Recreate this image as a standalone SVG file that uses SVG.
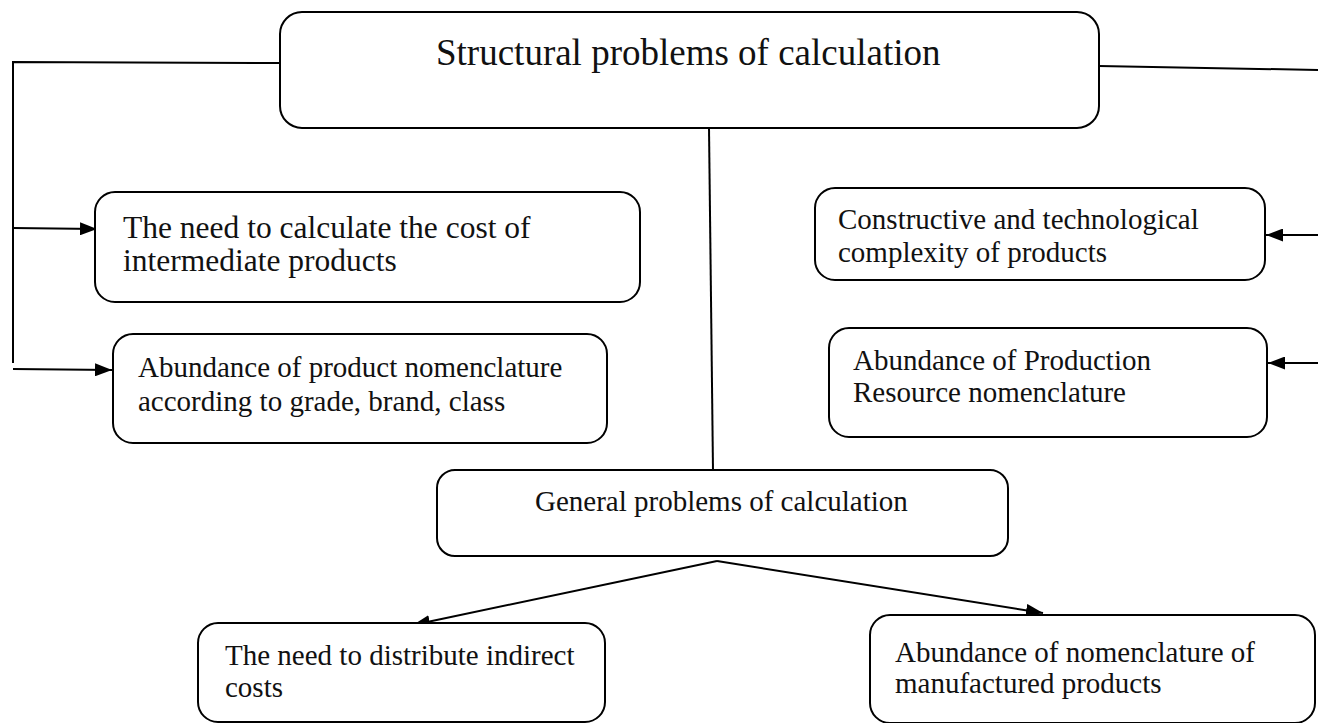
<svg xmlns="http://www.w3.org/2000/svg" width="1318" height="723" viewBox="0 0 1318 723">
<style>
.box{fill:#fff;stroke:#000;stroke-width:2}
.ln{fill:none;stroke:#000;stroke-width:2}
text{font-family:"Liberation Serif","Times New Roman",serif;fill:#111}
.t1{font-size:37px}
.t2{font-size:31.5px}
.t3{font-size:29px}
</style>
<defs>
<marker id="ah2" viewBox="0 0 10 10" refX="10" refY="5" markerWidth="17" markerHeight="13" markerUnits="userSpaceOnUse" orient="auto" preserveAspectRatio="none">
<path d="M0,0 L10,5 L0,10 z" fill="#000"/>
</marker>
</defs>
<g id="connectors">
<polyline class="ln" points="280,63 13,62 13,363"/>
<line class="ln" x1="13" y1="228" x2="97" y2="229" marker-end="url(#ah2)"/>
<line class="ln" x1="13" y1="369" x2="112" y2="370" marker-end="url(#ah2)"/>
<line class="ln" x1="1099" y1="66" x2="1318" y2="70"/>
<line class="ln" x1="1318" y1="235" x2="1266" y2="235" marker-end="url(#ah2)"/>
<line class="ln" x1="1318" y1="363" x2="1268" y2="363" marker-end="url(#ah2)"/>
<line class="ln" x1="709" y1="128" x2="713" y2="470"/>
<line class="ln" x1="717" y1="561" x2="413" y2="625" marker-end="url(#ah2)"/>
<line class="ln" x1="717" y1="561" x2="1043" y2="613" marker-end="url(#ah2)"/>
</g>
<g id="n-structural">
<rect class="box" x="280" y="12" width="819" height="116" rx="22"/>
<text class="t1" x="436" y="65">Structural problems of calculation</text>
</g>
<g id="n-intermediate">
<rect class="box" x="95" y="192" width="545" height="110" rx="20"/>
<text class="t2" x="123" y="238">The need to calculate the cost of</text>
<text class="t2" x="123" y="271">intermediate products</text>
</g>
<g id="n-abundance-product">
<rect class="box" x="113" y="334" width="494" height="109" rx="20"/>
<text class="t3" x="138" y="377">Abundance of product nomenclature</text>
<text class="t3" x="138" y="411">according to grade, brand, class</text>
</g>
<g id="n-constructive">
<rect class="box" x="815" y="188" width="450" height="92" rx="20"/>
<text class="t3" x="838" y="229">Constructive and technological</text>
<text class="t3" x="838" y="262">complexity of products</text>
</g>
<g id="n-abundance-resource">
<rect class="box" x="829" y="328" width="438" height="109" rx="20"/>
<text class="t3" x="853" y="370">Abundance of Production</text>
<text class="t3" x="853" y="402">Resource nomenclature</text>
</g>
<g id="n-general">
<rect class="box" x="437" y="470" width="571" height="86" rx="18"/>
<text class="t3" x="535" y="511">General problems of calculation</text>
</g>
<g id="n-distribute">
<rect class="box" x="198" y="623" width="407" height="99" rx="20"/>
<text class="t3" x="225" y="665">The need to distribute indirect</text>
<text class="t3" x="225" y="697">costs</text>
</g>
<g id="n-manufactured">
<rect class="box" x="870" y="615" width="445" height="108" rx="20"/>
<text class="t3" x="895" y="662">Abundance of nomenclature of</text>
<text class="t3" x="895" y="693">manufactured products</text>
</g>
</svg>
